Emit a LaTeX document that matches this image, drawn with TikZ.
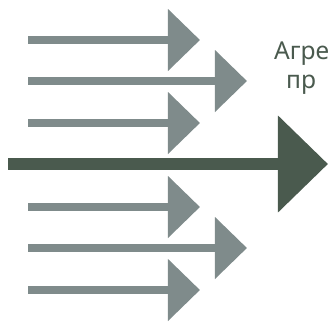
\documentclass[tikz,border=0pt]{standalone}
\usepackage{fontspec}
\setmainfont{Noto Sans}
\usetikzlibrary{arrows.meta}

\definecolor{featgray}{HTML}{7F8B8B}
\definecolor{aggdark}{HTML}{4A5A4E}

\tikzset{
	feature/.style={draw=featgray, line width=0.24cm,
		-{Triangle[length=0.96cm, width=1.8cm]}},
	aggregate/.style={draw=aggdark, line width=0.36cm,
		-{Triangle[length=1.5cm, width=2.82cm]}},
	caption/.style={text=aggdark, font=\fontsize{21}{25}\selectfont,
		inner sep=0pt, anchor=base west}
}

\begin{document}
\begin{tikzpicture}[x=0.03cm, y=-0.03cm]
	\useasboundingbox (0,0) rectangle (331,322);
	\foreach \i/\y/\t in {1/40/200, 2/81/247, 3/123/200, 4/207/200, 5/248/247, 6/290/200}
	{
		\coordinate (in\i) at (28,\y); \coordinate (out\i) at (\t,\y);
		\draw[feature] (in\i) -- (out\i);
	}
	\coordinate (src) at (8,164); \coordinate (dst) at (328,164);
	\draw[aggregate] (src) -- (dst);
	\node[caption] (cap1) at (274,59) {Агре};
	\node[caption] (cap2) at (286,88) {пр};
\end{tikzpicture}
\end{document}
